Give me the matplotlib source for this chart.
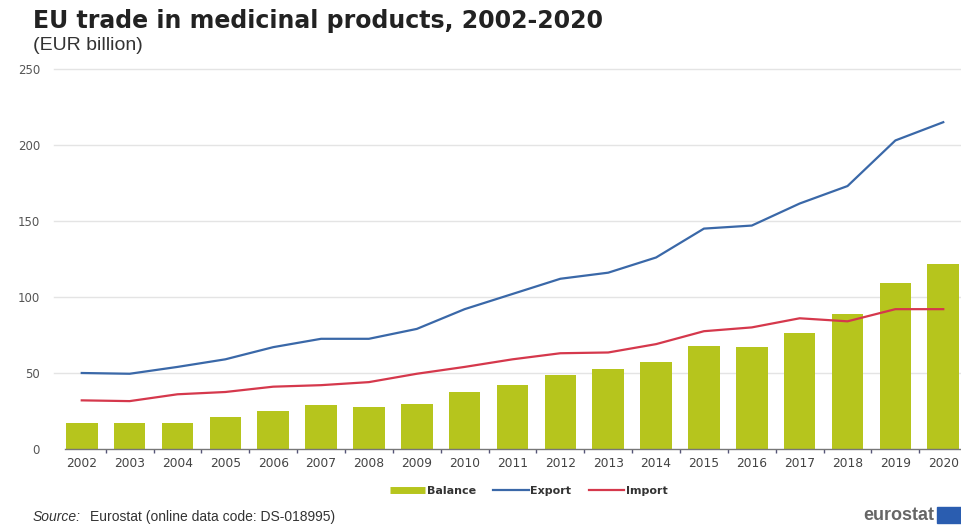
import matplotlib
matplotlib.use("Agg")
import matplotlib.pyplot as plt
from matplotlib.patches import Rectangle
from matplotlib.lines import Line2D

years = [str(y) for y in range(2002, 2021)]
balance = [17, 17, 17, 21, 25, 29, 27.5, 29.5, 37.5, 42, 49, 52.5, 57, 68, 67, 76, 89, 109.5, 122]
export = [50, 49.5, 54, 59, 67, 72.5, 72.5, 79, 92, 102, 112, 116, 126, 145, 147, 161.5, 173, 203, 215]
imports = [32, 31.5, 36, 37.5, 41, 42, 44, 49.5, 54, 59, 63, 63.5, 69, 77.5, 80, 86, 84, 92, 92]
yticks = [0, 50, 100, 150, 200, 250]

plt.rcParams['font.family'] = ['DejaVu Sans']

c_bal, c_exp, c_imp = '#b6c51d', '#3a68a8', '#d5384c'

fig = plt.figure(figsize=(9.62, 5.26), dpi=100)
ax = fig.add_axes([65/962, 1-449/526, 895/962, 380/526])

x = list(range(len(years)))

for t in yticks[1:]:
    ax.axhline(t, xmin=-0.012, xmax=1, color='#e4e4e4', lw=1, clip_on=False, zorder=0)

ax.bar(x, balance, width=0.66, color=c_bal, zorder=2)
ax.plot(x, export, color=c_exp, lw=1.6, zorder=3)
ax.plot(x, imports, color=c_imp, lw=1.6, zorder=3)

for s in ['top', 'right', 'left']:
    ax.spines[s].set_visible(False)
ax.spines['bottom'].set_color('#777777')
ax.spines['bottom'].set_linewidth(1)

ax.set_yticks(yticks)
ax.set_yticklabels([str(t) for t in yticks], fontsize=8.5, color='#555555')
ax.tick_params(axis='y', length=0, pad=18)
ax.set_xticks(x)
ax.set_xticklabels(years, fontsize=8.8, color='#444444')
ax.tick_params(axis='x', length=0, pad=6)
ax.set_xticks([i + 0.5 for i in range(-1, 19)], minor=True)
ax.tick_params(axis='x', which='minor', length=3, color='#555577', width=1)

ax.set_ylim(0, 250)
ax.set_xlim(-0.35, 18.35)

handles = [Line2D([], [], color=c_bal, lw=5, solid_capstyle='butt'),
           Line2D([], [], color=c_exp, lw=1.6),
           Line2D([], [], color=c_imp, lw=1.6)]
leg = ax.legend(handles, ['Balance', 'Export', 'Import'], loc='upper center',
                bbox_to_anchor=(0.518, -0.07), ncol=3, frameon=False,
                fontsize=8, handlelength=3.2, handletextpad=0.1, columnspacing=1.6)
for txt in leg.get_texts():
    txt.set_color('#333333')
    txt.set_fontweight('bold')

fig.text(33/962, 1-21/526, 'EU trade in medicinal products, 2002-2020', fontsize=17, fontweight='bold',
         color='#222222', va='center', ha='left')
fig.text(33/962, 1-46/526, '(EUR billion)', fontsize=14, color='#333333', va='center', ha='left',
         family='Liberation Sans')

fig.text(33/962, 1-517/526, 'Source:', fontsize=10, style='italic', color='#333333', va='center', ha='left',
         family='Liberation Sans')
fig.text(90/962, 1-517/526, 'Eurostat (online data code: DS-018995)', fontsize=10, color='#333333',
         va='center', ha='left', family='Liberation Sans')

fig.text(934/962, 1-516/526, 'eurostat', fontsize=13, fontweight='bold', color='#666666',
         va='center', ha='right', family='Liberation Sans')
fig.patches.append(Rectangle((937/962, 3/526), 24/962, 16/526, transform=fig.transFigure,
                             color='#2a5db0', zorder=5))

fig.savefig('out.png', dpi=100)
